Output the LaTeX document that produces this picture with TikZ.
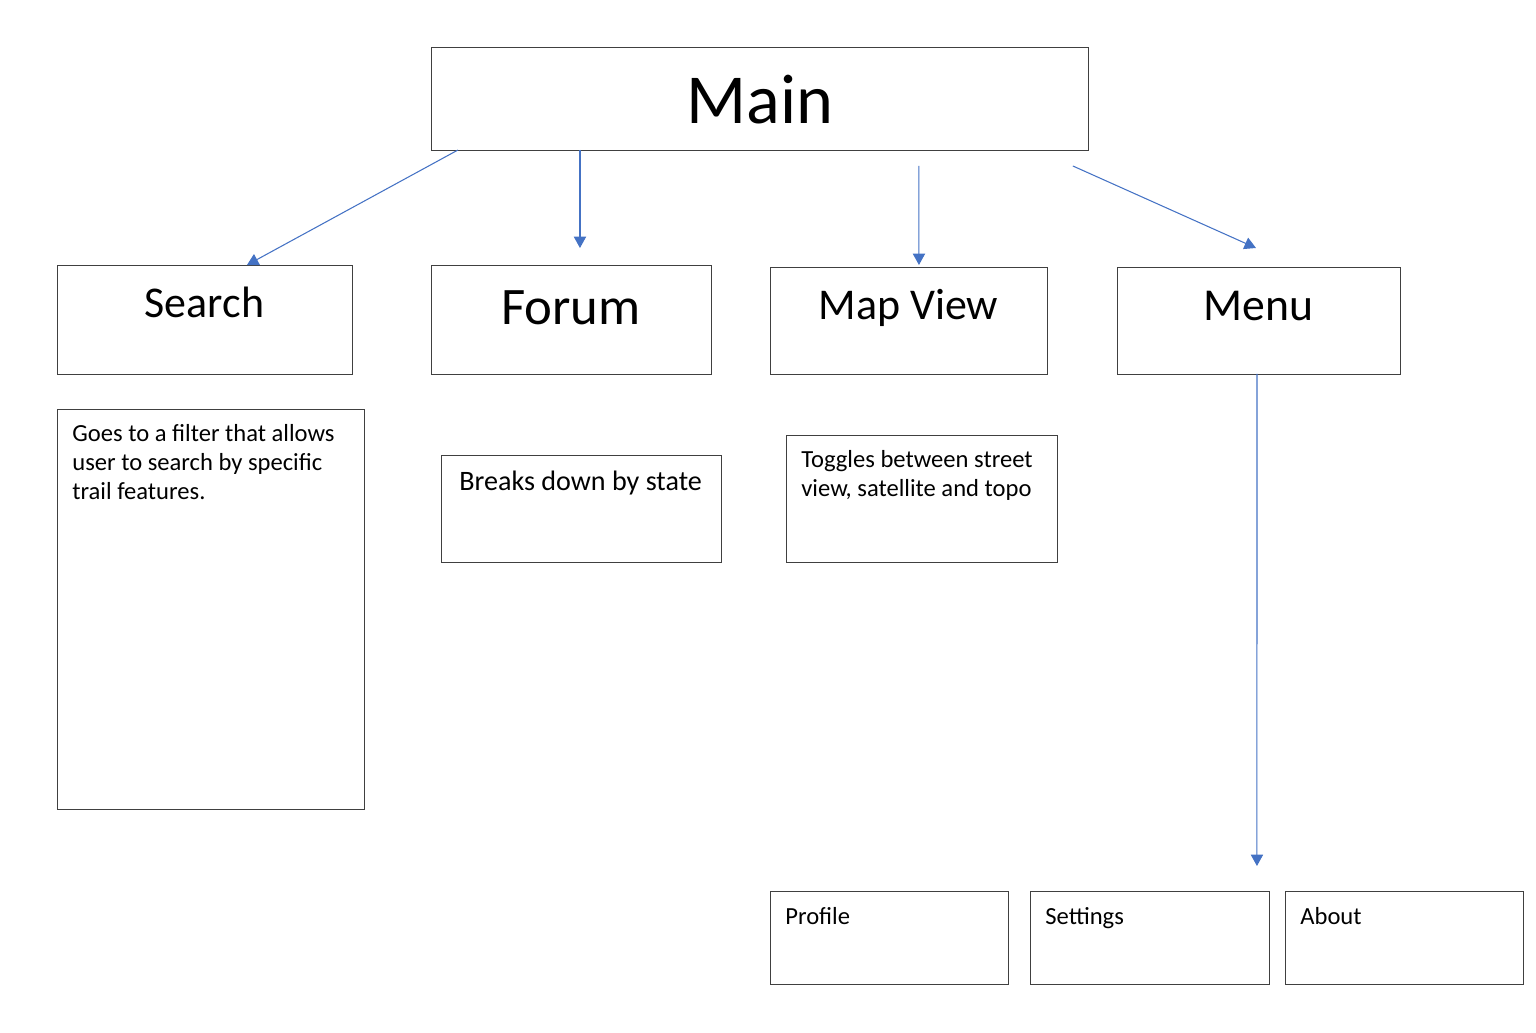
\documentclass[tikz,border=0pt]{standalone}
\usepackage{fontspec}
\setmainfont{Carlito}
\usepackage{xcolor}
\usetikzlibrary{arrows.meta}
\usetikzlibrary{positioning}

\definecolor{arrowblue}{HTML}{4472C4}
\definecolor{boxline}{HTML}{404040}

\tikzset{
  box/.style={draw=boxline, line width=0.5pt, rectangle, inner sep=0pt, outer sep=0pt, anchor=north west},
  conn/.style={draw=arrowblue, line width=0.6pt, -{Triangle[length=6.5pt,width=7pt]}},
  headtxt/.style={font=\fontsize{25}{30}\selectfont, anchor=base, inner sep=0pt},
  desctxt/.style={font=\fontsize{14}{16.7}\selectfont, anchor=base west, align=left, inner sep=0pt},
}

\begin{document}
\begin{tikzpicture}[x=0.02cm,y=-0.02cm]
\useasboundingbox (0,0) rectangle (1536,1032);
% boxes
\node[box, minimum width=13.16cm, minimum height=2.06cm] (main) at (431,47) {};
\node[box, minimum width=5.9cm, minimum height=2.18cm] (search) at (57,265) {};
\node[box, minimum width=5.6cm, minimum height=2.18cm] (forum) at (431,265) {};
\node[box, minimum width=5.54cm, minimum height=2.14cm] (mapview) at (770,267) {};
\node[box, minimum width=5.66cm, minimum height=2.14cm] (menu) at (1117,267) {};
\node[box, minimum width=6.14cm, minimum height=8.02cm] (searchdesc) at (57,409) {};
\node[box, minimum width=5.6cm, minimum height=2.14cm] (forumdesc) at (441,455) {};
\node[box, minimum width=5.42cm, minimum height=2.54cm] (mapdesc) at (786,435) {};
\node[box, minimum width=4.76cm, minimum height=1.86cm] (profile) at (770,891) {};
\node[box, minimum width=4.78cm, minimum height=1.86cm] (settings) at (1030,891) {};
\node[box, minimum width=4.76cm, minimum height=1.86cm] (about) at (1285,891) {};
% titles
\node[headtxt, font=\fontsize{40}{48}\selectfont] (maintxt) at ([yshift=-1.54cm]main.north) {Main};
\node[headtxt] (searchtxt) at ([yshift=-1.06cm]search.north) {Search};
\node[headtxt, font=\fontsize{30}{36}\selectfont] (forumtxt) at ([yshift=-1.2cm]forum.north) {Forum};
\node[headtxt] (mapviewtxt) at ([yshift=-1.06cm]mapview.north) {Map View};
\node[headtxt, font=\fontsize{26}{31}\selectfont] (menutxt) at ([yshift=-1.08cm]menu.north) {Menu};
% descriptions (base = last line)
\node[desctxt] (searchdesctxt) at ([xshift=0.3cm,yshift=-1.82cm]searchdesc.north west)
  {Goes to a filter that allows\\user to search by specific\\trail features.};
\node[desctxt, font=\fontsize{16}{19}\selectfont] (forumdesctxt) at ([xshift=0.36cm,yshift=-0.7cm]forumdesc.north west) {Breaks down by state};
\node[desctxt] (mapdesctxt) at ([xshift=0.3cm,yshift=-1.23cm]mapdesc.north west)
  {Toggles between street\\view, satellite and topo};
\node[desctxt] (profiletxt) at ([xshift=0.3cm,yshift=-0.66cm]profile.north west) {Profile};
\node[desctxt] (settingstxt) at ([xshift=0.3cm,yshift=-0.66cm]settings.north west) {Settings};
\node[desctxt] (abouttxt) at ([xshift=0.3cm,yshift=-0.66cm]about.north west) {About};
% connectors
\draw[conn] ([xshift=0.54cm]main.south west) -- ([xshift=0.85cm]search.north);
\draw[conn] ([xshift=2.98cm]main.south west) -- ([xshift=0.18cm,yshift=0.34cm]forum.north);
\draw[conn] ([xshift=3.18cm,yshift=-0.32cm]main.south) -- ([xshift=0.21cm,yshift=0.04cm]mapview.north);
\draw[conn] ([xshift=-0.32cm,yshift=-0.32cm]main.south east) -- ([xshift=-0.05cm,yshift=0.38cm]menu.north);
\draw[conn] ([xshift=-0.03cm]menu.south) -- ([xshift=-0.24cm,yshift=0.5cm]settings.north east);
\end{tikzpicture}
\end{document}
